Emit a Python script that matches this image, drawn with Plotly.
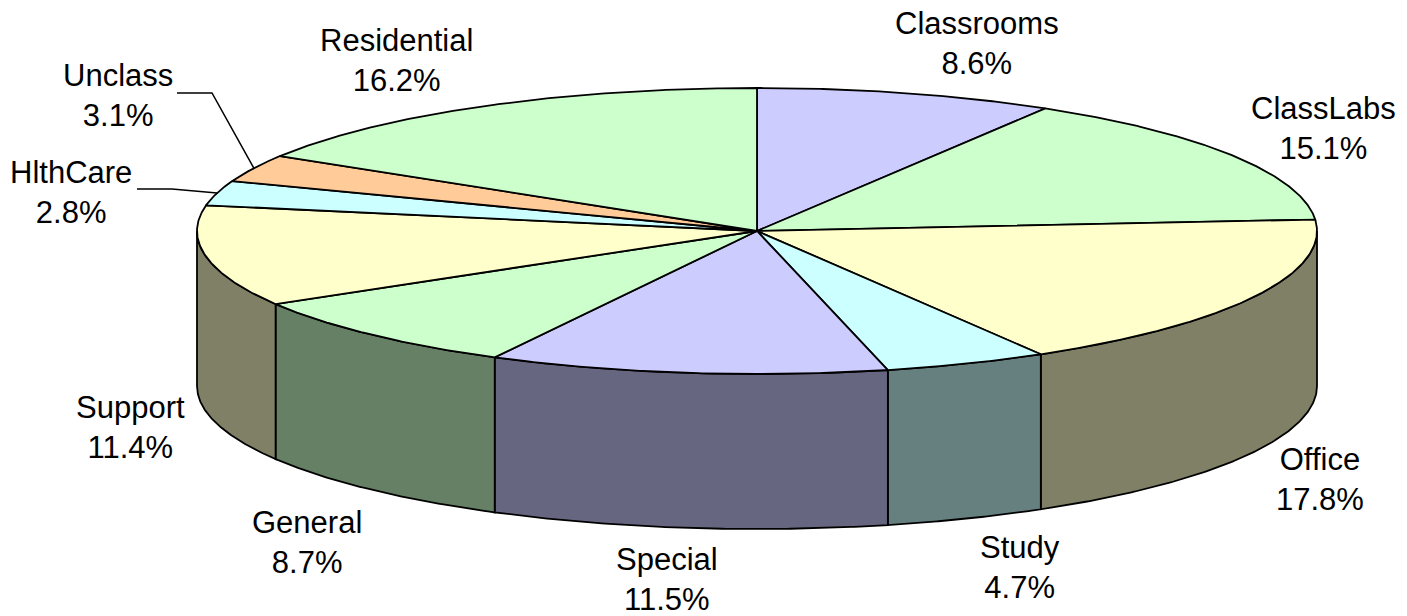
import numpy as np
import plotly.graph_objects as go

# ---- data ----
categories = ["Classrooms", "ClassLabs", "Office", "Study", "Special",
              "General", "Support", "HlthCare", "Unclass", "Residential"]
shares = [8.6, 15.1, 17.8, 4.7, 11.5, 8.7, 11.4, 2.8, 3.1, 16.2]

# ---- styles ----
top_colors = ["#CCCCFF", "#CCFFCC", "#FFFFCC", "#CCFFFF", "#CCCCFF",
              "#CCFFCC", "#FFFFCC", "#CCFFFF", "#FFCC99", "#CCFFCC"]
side_colors = ["#666680", "#668066", "#808066", "#668080", "#666680",
               "#668066", "#808066", "#668080", "#806650", "#668066"]

# geometry of the projected pie (pixel space)
CX, CY, RX, RY, DEPTH = 757, 231, 560, 143, 155
FONT = dict(family="Liberation Sans, Arial, sans-serif", size=31, color="black")

# label anchor positions (centre of text block)
label_pos = {
    "Classrooms": (977, 43), "ClassLabs": (1323, 128), "Office": (1320, 479),
    "Study": (1020, 567), "Special": (667, 579), "General": (307, 542),
    "Support": (130, 427), "HlthCare": (71, 192), "Unclass": (118, 95),
    "Residential": (396, 60),
}
# leader-line elbows for small slices
leader_elbow = {"Unclass": [(177, 93), (212, 93)], "HlthCare": [(137, 189), (172, 189)]}


def ell(t_deg, dy=0.0):
    t = np.radians(t_deg)
    return CX + RX * np.sin(t), CY - RY * np.cos(t) + dy


fig = go.Figure()
total = float(sum(shares))
bounds = np.concatenate([[0.0], np.cumsum(shares) / total * 360.0])

# side walls (front half only)
for i, cat in enumerate(categories):
    a, b = bounds[i], bounds[i + 1]
    a2, b2 = max(a, 90.0), min(b, 270.0)
    if b2 <= a2:
        continue
    ts = np.linspace(a2, b2, 120)
    xt, yt = ell(ts)
    xb, yb = ell(ts[::-1], DEPTH)
    xs = np.concatenate([xt, xb, xt[:1]])
    ys = np.concatenate([yt, yb, yt[:1]])
    fig.add_trace(go.Scatter(x=xs, y=ys, mode="lines", fill="toself",
                             fillcolor=side_colors[i],
                             line=dict(color="black", width=1.8),
                             hoverinfo="skip", showlegend=False))

# top wedges
for i, cat in enumerate(categories):
    a, b = bounds[i], bounds[i + 1]
    ts = np.linspace(a, b, max(20, int((b - a) * 3)))
    xt, yt = ell(ts)
    xs = np.concatenate([[CX], xt, [CX]])
    ys = np.concatenate([[CY], yt, [CY]])
    fig.add_trace(go.Scatter(x=xs, y=ys, mode="lines", fill="toself",
                             fillcolor=top_colors[i],
                             line=dict(color="black", width=1.8),
                             hoverinfo="skip", showlegend=False,
                             name=cat))

# leader lines
for i, cat in enumerate(categories):
    if cat in leader_elbow:
        mid = (bounds[i] + bounds[i + 1]) / 2
        ex, ey = ell(mid)
        pts = leader_elbow[cat] + [(ex, ey)]
        fig.add_trace(go.Scatter(x=[p[0] for p in pts], y=[p[1] for p in pts],
                                 mode="lines", line=dict(color="black", width=1.5),
                                 hoverinfo="skip", showlegend=False))

# labels
for cat, s in zip(categories, shares):
    x, y = label_pos[cat]
    fig.add_annotation(x=x, y=y, text=f"{cat}<br>{s:.1f}%", showarrow=False,
                       font=FONT, xanchor="center", yanchor="middle", align="center")

W, H = 1407, 616
fig.update_layout(
    width=W, height=H, margin=dict(l=0, r=0, t=0, b=0),
    paper_bgcolor="white", plot_bgcolor="white",
    xaxis=dict(range=[0, W], visible=False, fixedrange=True),
    yaxis=dict(range=[H, 0], visible=False, fixedrange=True),
    showlegend=False,
)
fig.write_html("out.html",
               config={"displayModeBar": False, "staticPlot": True},
               post_script="document.body.style.margin='0';document.body.style.overflow='hidden';")
